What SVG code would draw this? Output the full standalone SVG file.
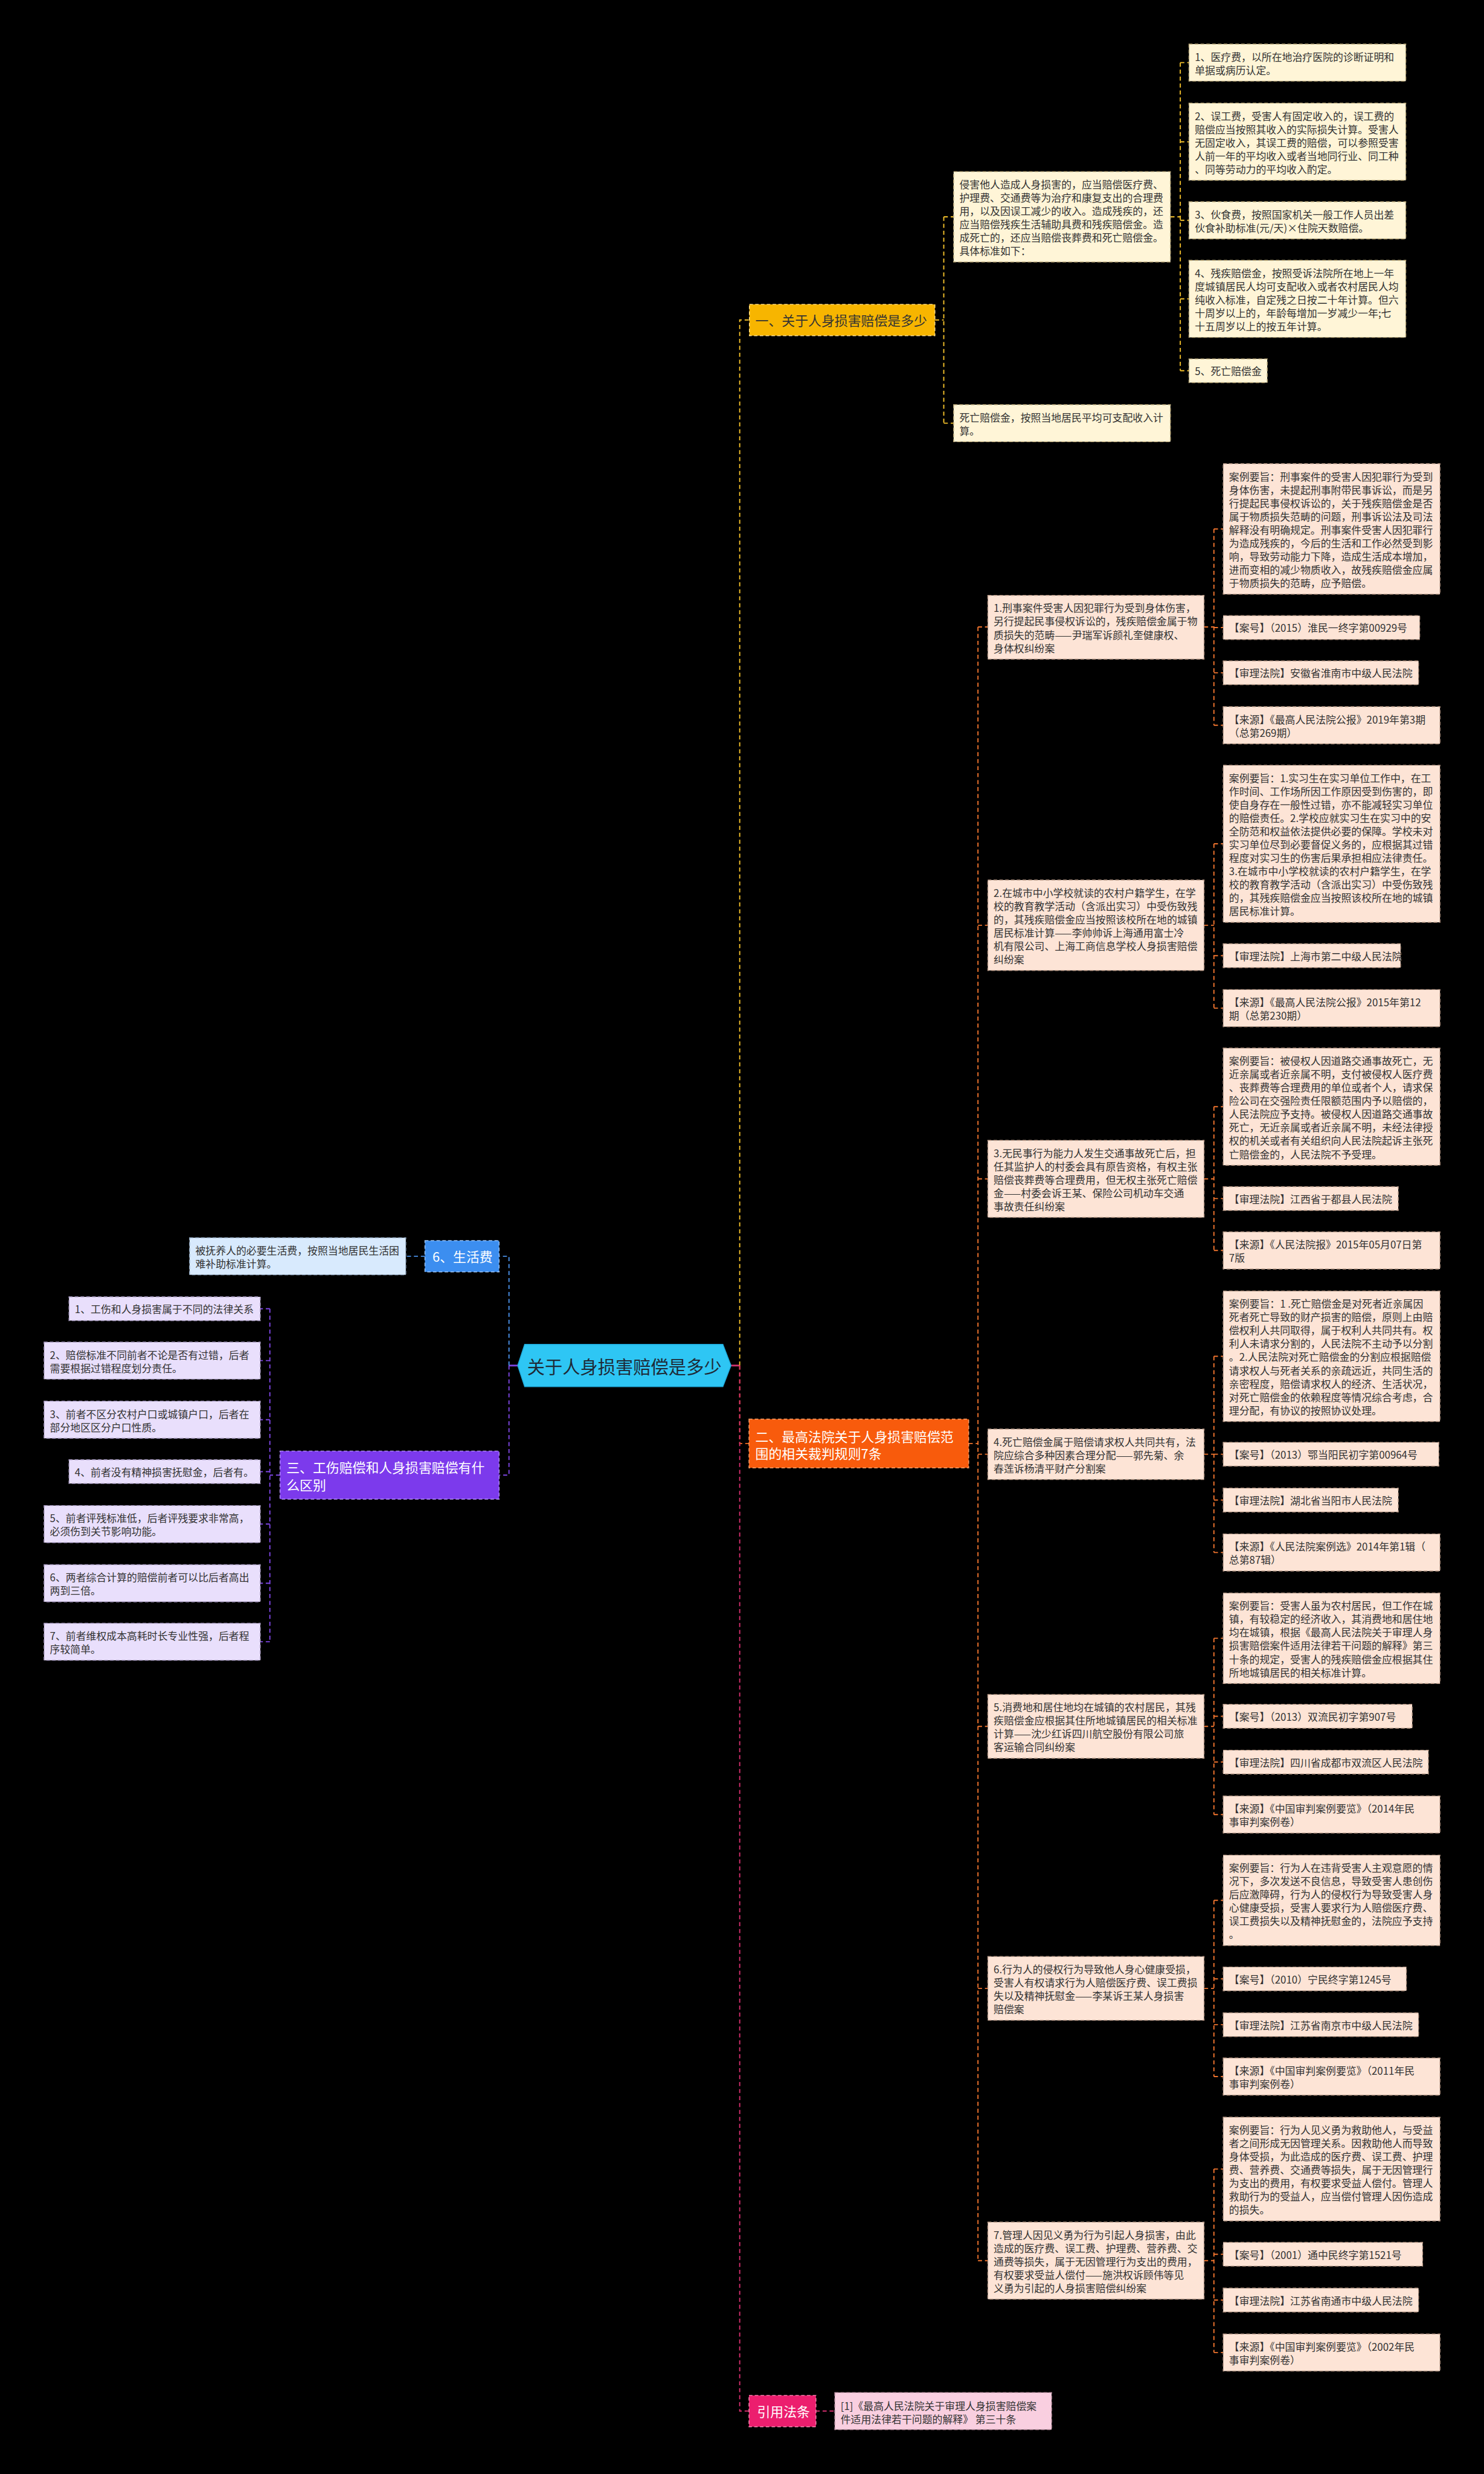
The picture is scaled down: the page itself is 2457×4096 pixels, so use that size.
<svg xmlns="http://www.w3.org/2000/svg" width="2457" height="4096" viewBox="0 0 2457 4096">
<style>
.t{font-family:"Noto Sans CJK SC","Microsoft YaHei",sans-serif;font-size:17.6px;fill:#333;dominant-baseline:central}
.h{font-family:"Noto Sans CJK SC","Microsoft YaHei",sans-serif;font-size:22.8px;dominant-baseline:central}
.w{fill:#fff}
.d{fill:#333}
.b{stroke-width:1.5;stroke-dasharray:6 4}
.y2{fill:#FFF5D7;stroke:#B9A878}
.o2{fill:#FDE4D6;stroke:#B99A88}
.p2{fill:#E9DFFC;stroke:#A497BD}
.bl2{fill:#D8EAFD;stroke:#93A9C2}
.pk2{fill:#F9CFE0;stroke:#B88FA0}
</style>
<rect width="2457" height="4096" fill="#000"/>
<g transform="scale(0.9598)">
<g id="connectors" fill="none" stroke-width="2" stroke-dasharray="7 5">
<path d="M1261 2355.5H1276" stroke="#D0346F" stroke-dasharray="none" stroke-width="3"/>
<path d="M893 2355.5H878" stroke="#7D45E2" stroke-dasharray="none" stroke-width="3"/>
<path d="M1276 2355.5V552H1292" stroke="#F2BF2A"/>
<path d="M1276 2355.5V2490H1292" stroke="#F26A1F"/>
<path d="M1276 2355.5V4159H1292" stroke="#D42E6E"/>
<path d="M878 2355.5V2167H861" stroke="#4A90E8"/>
<path d="M878 2355.5V2544.5H861" stroke="#7D45E2"/>
<path d="M1613 552H1628M1628 374V730M1628 374H1645M1628 730H1645" stroke="#F2BF2A"/>
<path d="M2019 374H2036M2036 108V639.5M2036 108H2051M2036 244.5H2051M2036 380H2051M2036 515.5H2051M2036 639.5H2051" stroke="#F2BF2A"/>
<path d="M1671 2490H1687M1687 1081.5V3899.5M1687 1081.5H1704M1687 1596H1704M1687 2033.5H1704M1687 2508.5H1704M1687 2978H1704M1687 3430H1704M1687 3899.5H1704" stroke="#F0742E"/>
<path d="M2077 1081.5H2094M2094 912.5V1251M2094 912.5H2110M2094 1082.5H2110M2094 1160.5H2110M2094 1251H2110" stroke="#F0742E"/>
<path d="M2077 1596H2094M2094 1455.5V1739M2094 1455.5H2110M2094 1648.5H2110M2094 1739H2110" stroke="#F0742E"/>
<path d="M2077 2033.5H2094M2094 1909V2157M2094 1909H2110M2094 2067.5H2110M2094 2157H2110" stroke="#F0742E"/>
<path d="M2077 2508.5H2094M2094 2339.5V2678M2094 2339.5H2110M2094 2508.5H2110M2094 2587.5H2110M2094 2678H2110" stroke="#F0742E"/>
<path d="M2077 2978H2094M2094 2826V3130M2094 2826H2110M2094 2960.5H2110M2094 3039.5H2110M2094 3130H2110" stroke="#F0742E"/>
<path d="M2077 3430H2094M2094 3278V3582M2094 3278H2110M2094 3413.5H2110M2094 3492.5H2110M2094 3582H2110" stroke="#F0742E"/>
<path d="M2077 3899.5H2094M2094 3741.5V4058M2094 3741.5H2110M2094 3888.5H2110M2094 3967.5H2110M2094 4058H2110" stroke="#F0742E"/>
<path d="M1407 4159H1440" stroke="#D42E6E"/>
<path d="M733 2167H700" stroke="#4A90E8"/>
<path d="M483 2544.5H465.5M465.5 2257.5V2832M465.5 2257.5H449M465.5 2347H449M465.5 2449H449M465.5 2538.5H449M465.5 2629H449M465.5 2731H449M465.5 2832H449" stroke="#7D45E2"/>
</g>

<g id="root">
<polygon points="893,2355.5 905,2319 1247,2319 1261,2355.5 1247,2392 905,2392" fill="#2EC6F4" stroke="#1FA9DA" stroke-width="1.5"/>
<text x="1077" y="2356" class="h" style="font-size:30.5px;fill:#1E2A36" text-anchor="middle">关于人身损害赔偿是多少</text>
</g>

<g id="n-yi">
<rect x="1292.7" y="525" width="320" height="54" fill="#F7B500" stroke="#FFE08A" class="b"/>
<text x="1303" y="552" class="h d">一、关于人身损害赔偿是多少</text>
</g>
<g id="n-yi-a">
<rect x="1645" y="296" width="374" height="156" class="y2 b"/>
<text x="1655" y="316.5" class="t"><tspan x="1655" dy="0">侵害他人造成人身损害的，应当赔偿医疗费、</tspan><tspan x="1655" dy="23">护理费、交通费等为治疗和康复支出的合理费</tspan><tspan x="1655" dy="23">用，以及因误工减少的收入。造成残疾的，还</tspan><tspan x="1655" dy="23">应当赔偿残疾生活辅助具费和残疾赔偿金。造</tspan><tspan x="1655" dy="23">成死亡的，还应当赔偿丧葬费和死亡赔偿金。</tspan><tspan x="1655" dy="23">具体标准如下：</tspan></text>
</g>
<g id="n-yi-a1">
<rect x="2051" y="76" width="374" height="64" class="y2 b"/>
<text x="2061" y="96.5" class="t"><tspan x="2061" dy="0">1、医疗费，以所在地治疗医院的诊断证明和</tspan><tspan x="2061" dy="23">单据或病历认定。</tspan></text>
</g>
<g id="n-yi-a2">
<rect x="2051" y="178" width="374" height="133" class="y2 b"/>
<text x="2061" y="198.5" class="t"><tspan x="2061" dy="0">2、误工费，受害人有固定收入的，误工费的</tspan><tspan x="2061" dy="23">赔偿应当按照其收入的实际损失计算。受害人</tspan><tspan x="2061" dy="23">无固定收入，其误工费的赔偿，可以参照受害</tspan><tspan x="2061" dy="23">人前一年的平均收入或者当地同行业、同工种</tspan><tspan x="2061" dy="23">、同等劳动力的平均收入酌定。</tspan></text>
</g>
<g id="n-yi-a3">
<rect x="2051" y="348" width="374" height="64" class="y2 b"/>
<text x="2061" y="368.5" class="t"><tspan x="2061" dy="0">3、伙食费，按照国家机关一般工作人员出差</tspan><tspan x="2061" dy="23">伙食补助标准(元/天)×住院天数赔偿。</tspan></text>
</g>
<g id="n-yi-a4">
<rect x="2051" y="449" width="374" height="133" class="y2 b"/>
<text x="2061" y="469.5" class="t"><tspan x="2061" dy="0">4、残疾赔偿金，按照受诉法院所在地上一年</tspan><tspan x="2061" dy="23">度城镇居民人均可支配收入或者农村居民人均</tspan><tspan x="2061" dy="23">纯收入标准，自定残之日按二十年计算。但六</tspan><tspan x="2061" dy="23">十周岁以上的，年龄每增加一岁减少一年;七</tspan><tspan x="2061" dy="23">十五周岁以上的按五年计算。</tspan></text>
</g>
<g id="n-yi-a5">
<rect x="2051" y="619" width="135" height="41" class="y2 b"/>
<text x="2061" y="639.5" class="t">5、死亡赔偿金</text>
</g>
<g id="n-yi-b">
<rect x="1645" y="698" width="374" height="64" class="y2 b"/>
<text x="1655" y="718.5" class="t"><tspan x="1655" dy="0">死亡赔偿金，按照当地居民平均可支配收入计</tspan><tspan x="1655" dy="23">算。</tspan></text>
</g>

<g id="n-er">
<rect x="1292" y="2448" width="379" height="84" fill="#F85B0C" stroke="#FFA06A" class="b"/>
<text x="1303" y="2477" class="h w"><tspan x="1303" dy="0">二、最高法院关于人身损害赔偿范</tspan><tspan x="1303" dy="29">围的相关裁判规则7条</tspan></text>
</g>

<g id="case1">
<rect x="1704" y="1027" width="373" height="110" class="o2 b"/>
<text x="1714" y="1047.5" class="t"><tspan x="1714" dy="0">1.刑事案件受害人因犯罪行为受到身体伤害，</tspan><tspan x="1714" dy="23">另行提起民事侵权诉讼的，残疾赔偿金属于物</tspan><tspan x="1714" dy="23">质损失的范畴——尹瑞军诉颜礼奎健康权、</tspan><tspan x="1714" dy="23">身体权纠纷案</tspan></text>
</g>
<g id="case1-a">
<rect x="2110" y="800" width="374" height="225" class="o2 b"/>
<text x="2120" y="820.5" class="t"><tspan x="2120" dy="0">案例要旨：刑事案件的受害人因犯罪行为受到</tspan><tspan x="2120" dy="23">身体伤害，未提起刑事附带民事诉讼，而是另</tspan><tspan x="2120" dy="23">行提起民事侵权诉讼的，关于残疾赔偿金是否</tspan><tspan x="2120" dy="23">属于物质损失范畴的问题，刑事诉讼法及司法</tspan><tspan x="2120" dy="23">解释没有明确规定。刑事案件受害人因犯罪行</tspan><tspan x="2120" dy="23">为造成残疾的，今后的生活和工作必然受到影</tspan><tspan x="2120" dy="23">响，导致劳动能力下降，造成生活成本增加，</tspan><tspan x="2120" dy="23">进而变相的减少物质收入，故残疾赔偿金应属</tspan><tspan x="2120" dy="23">于物质损失的范畴，应予赔偿。</tspan></text>
</g>
<g id="case1-b">
<rect x="2110" y="1062" width="339" height="41" class="o2 b"/>
<text x="2120" y="1082.5" class="t">【案号】（2015）淮民一终字第00929号</text>
</g>
<g id="case1-c">
<rect x="2110" y="1140" width="337" height="41" class="o2 b"/>
<text x="2120" y="1160.5" class="t">【审理法院】安徽省淮南市中级人民法院</text>
</g>
<g id="case1-d">
<rect x="2110" y="1219" width="374" height="64" class="o2 b"/>
<text x="2120" y="1239.5" class="t"><tspan x="2120" dy="0">【来源】《最高人民法院公报》2019年第3期</tspan><tspan x="2120" dy="23">（总第269期）</tspan></text>
</g>

<g id="case2">
<rect x="1704" y="1518" width="373" height="156" class="o2 b"/>
<text x="1714" y="1538.5" class="t"><tspan x="1714" dy="0">2.在城市中小学校就读的农村户籍学生，在学</tspan><tspan x="1714" dy="23">校的教育教学活动（含派出实习）中受伤致残</tspan><tspan x="1714" dy="23">的，其残疾赔偿金应当按照该校所在地的城镇</tspan><tspan x="1714" dy="23">居民标准计算——李帅帅诉上海通用富士冷</tspan><tspan x="1714" dy="23">机有限公司、上海工商信息学校人身损害赔偿</tspan><tspan x="1714" dy="23">纠纷案</tspan></text>
</g>
<g id="case2-a">
<rect x="2110" y="1320" width="374" height="271" class="o2 b"/>
<text x="2120" y="1340.5" class="t"><tspan x="2120" dy="0">案例要旨：1.实习生在实习单位工作中，在工</tspan><tspan x="2120" dy="23">作时间、工作场所因工作原因受到伤害的，即</tspan><tspan x="2120" dy="23">使自身存在一般性过错，亦不能减轻实习单位</tspan><tspan x="2120" dy="23">的赔偿责任。2.学校应就实习生在实习中的安</tspan><tspan x="2120" dy="23">全防范和权益依法提供必要的保障。学校未对</tspan><tspan x="2120" dy="23">实习单位尽到必要督促义务的，应根据其过错</tspan><tspan x="2120" dy="23">程度对实习生的伤害后果承担相应法律责任。</tspan><tspan x="2120" dy="23">3.在城市中小学校就读的农村户籍学生，在学</tspan><tspan x="2120" dy="23">校的教育教学活动（含派出实习）中受伤致残</tspan><tspan x="2120" dy="23">的，其残疾赔偿金应当按照该校所在地的城镇</tspan><tspan x="2120" dy="23">居民标准计算。</tspan></text>
</g>
<g id="case2-c">
<rect x="2110" y="1628" width="306" height="41" class="o2 b"/>
<text x="2120" y="1648.5" class="t">【审理法院】上海市第二中级人民法院</text>
</g>
<g id="case2-d">
<rect x="2110" y="1707" width="374" height="64" class="o2 b"/>
<text x="2120" y="1727.5" class="t"><tspan x="2120" dy="0">【来源】《最高人民法院公报》2015年第12</tspan><tspan x="2120" dy="23">期（总第230期）</tspan></text>
</g>

<g id="case3">
<rect x="1704" y="1967" width="373" height="133" class="o2 b"/>
<text x="1714" y="1987.5" class="t"><tspan x="1714" dy="0">3.无民事行为能力人发生交通事故死亡后，担</tspan><tspan x="1714" dy="23">任其监护人的村委会具有原告资格，有权主张</tspan><tspan x="1714" dy="23">赔偿丧葬费等合理费用，但无权主张死亡赔偿</tspan><tspan x="1714" dy="23">金——村委会诉王某、保险公司机动车交通</tspan><tspan x="1714" dy="23">事故责任纠纷案</tspan></text>
</g>
<g id="case3-a">
<rect x="2110" y="1808" width="374" height="202" class="o2 b"/>
<text x="2120" y="1828.5" class="t"><tspan x="2120" dy="0">案例要旨：被侵权人因道路交通事故死亡，无</tspan><tspan x="2120" dy="23">近亲属或者近亲属不明，支付被侵权人医疗费</tspan><tspan x="2120" dy="23">、丧葬费等合理费用的单位或者个人，请求保</tspan><tspan x="2120" dy="23">险公司在交强险责任限额范围内予以赔偿的，</tspan><tspan x="2120" dy="23">人民法院应予支持。被侵权人因道路交通事故</tspan><tspan x="2120" dy="23">死亡，无近亲属或者近亲属不明，未经法律授</tspan><tspan x="2120" dy="23">权的机关或者有关组织向人民法院起诉主张死</tspan><tspan x="2120" dy="23">亡赔偿金的，人民法院不予受理。</tspan></text>
</g>
<g id="case3-c">
<rect x="2110" y="2047" width="302" height="41" class="o2 b"/>
<text x="2120" y="2067.5" class="t">【审理法院】江西省于都县人民法院</text>
</g>
<g id="case3-d">
<rect x="2110" y="2125" width="374" height="64" class="o2 b"/>
<text x="2120" y="2145.5" class="t"><tspan x="2120" dy="0">【来源】《人民法院报》2015年05月07日第</tspan><tspan x="2120" dy="23">7版</tspan></text>
</g>

<g id="case4">
<rect x="1704" y="2465" width="373" height="87" class="o2 b"/>
<text x="1714" y="2485.5" class="t"><tspan x="1714" dy="0">4.死亡赔偿金属于赔偿请求权人共同共有，法</tspan><tspan x="1714" dy="23">院应综合多种因素合理分配——郭先菊、余</tspan><tspan x="1714" dy="23">春莲诉杨清平财产分割案</tspan></text>
</g>
<g id="case4-a">
<rect x="2110" y="2227" width="374" height="225" class="o2 b"/>
<text x="2120" y="2247.5" class="t"><tspan x="2120" dy="0">案例要旨：1 .死亡赔偿金是对死者近亲属因</tspan><tspan x="2120" dy="23">死者死亡导致的财产损害的赔偿，原则上由赔</tspan><tspan x="2120" dy="23">偿权利人共同取得，属于权利人共同共有。权</tspan><tspan x="2120" dy="23">利人未请求分割的，人民法院不主动予以分割</tspan><tspan x="2120" dy="23">。2.人民法院对死亡赔偿金的分割应根据赔偿</tspan><tspan x="2120" dy="23">请求权人与死者关系的亲疏远近，共同生活的</tspan><tspan x="2120" dy="23">亲密程度，赔偿请求权人的经济、生活状况，</tspan><tspan x="2120" dy="23">对死亡赔偿金的依赖程度等情况综合考虑，合</tspan><tspan x="2120" dy="23">理分配，有协议的按照协议处理。</tspan></text>
</g>
<g id="case4-b">
<rect x="2110" y="2488" width="372" height="41" class="o2 b"/>
<text x="2120" y="2508.5" class="t">【案号】（2013）鄂当阳民初字第00964号</text>
</g>
<g id="case4-c">
<rect x="2110" y="2567" width="302" height="41" class="o2 b"/>
<text x="2120" y="2587.5" class="t">【审理法院】湖北省当阳市人民法院</text>
</g>
<g id="case4-d">
<rect x="2110" y="2646" width="374" height="64" class="o2 b"/>
<text x="2120" y="2666.5" class="t"><tspan x="2120" dy="0">【来源】《人民法院案例选》2014年第1辑（</tspan><tspan x="2120" dy="23">总第87辑）</tspan></text>
</g>

<g id="case5">
<rect x="1704" y="2923" width="373" height="110" class="o2 b"/>
<text x="1714" y="2943.5" class="t"><tspan x="1714" dy="0">5.消费地和居住地均在城镇的农村居民，其残</tspan><tspan x="1714" dy="23">疾赔偿金应根据其住所地城镇居民的相关标准</tspan><tspan x="1714" dy="23">计算——沈少红诉四川航空股份有限公司旅</tspan><tspan x="1714" dy="23">客运输合同纠纷案</tspan></text>
</g>
<g id="case5-a">
<rect x="2110" y="2748" width="374" height="156" class="o2 b"/>
<text x="2120" y="2768.5" class="t"><tspan x="2120" dy="0">案例要旨：受害人虽为农村居民，但工作在城</tspan><tspan x="2120" dy="23">镇，有较稳定的经济收入，其消费地和居住地</tspan><tspan x="2120" dy="23">均在城镇，根据《最高人民法院关于审理人身</tspan><tspan x="2120" dy="23">损害赔偿案件适用法律若干问题的解释》第三</tspan><tspan x="2120" dy="23">十条的规定，受害人的残疾赔偿金应根据其住</tspan><tspan x="2120" dy="23">所地城镇居民的相关标准计算。</tspan></text>
</g>
<g id="case5-b">
<rect x="2110" y="2940" width="326" height="41" class="o2 b"/>
<text x="2120" y="2960.5" class="t">【案号】（2013）双流民初字第907号</text>
</g>
<g id="case5-c">
<rect x="2110" y="3019" width="354" height="41" class="o2 b"/>
<text x="2120" y="3039.5" class="t">【审理法院】四川省成都市双流区人民法院</text>
</g>
<g id="case5-d">
<rect x="2110" y="3098" width="374" height="64" class="o2 b"/>
<text x="2120" y="3118.5" class="t"><tspan x="2120" dy="0">【来源】《中国审判案例要览》（2014年民</tspan><tspan x="2120" dy="23">事审判案例卷）</tspan></text>
</g>

<g id="case6">
<rect x="1704" y="3375" width="373" height="110" class="o2 b"/>
<text x="1714" y="3395.5" class="t"><tspan x="1714" dy="0">6.行为人的侵权行为导致他人身心健康受损，</tspan><tspan x="1714" dy="23">受害人有权请求行为人赔偿医疗费、误工费损</tspan><tspan x="1714" dy="23">失以及精神抚慰金——李某诉王某人身损害</tspan><tspan x="1714" dy="23">赔偿案</tspan></text>
</g>
<g id="case6-a">
<rect x="2110" y="3200" width="374" height="156" class="o2 b"/>
<text x="2120" y="3220.5" class="t"><tspan x="2120" dy="0">案例要旨：行为人在违背受害人主观意愿的情</tspan><tspan x="2120" dy="23">况下，多次发送不良信息，导致受害人患创伤</tspan><tspan x="2120" dy="23">后应激障碍，行为人的侵权行为导致受害人身</tspan><tspan x="2120" dy="23">心健康受损，受害人要求行为人赔偿医疗费、</tspan><tspan x="2120" dy="23">误工费损失以及精神抚慰金的，法院应予支持</tspan><tspan x="2120" dy="23">。</tspan></text>
</g>
<g id="case6-b">
<rect x="2110" y="3393" width="316" height="41" class="o2 b"/>
<text x="2120" y="3413.5" class="t">【案号】（2010）宁民终字第1245号</text>
</g>
<g id="case6-c">
<rect x="2110" y="3472" width="337" height="41" class="o2 b"/>
<text x="2120" y="3492.5" class="t">【审理法院】江苏省南京市中级人民法院</text>
</g>
<g id="case6-d">
<rect x="2110" y="3550" width="374" height="64" class="o2 b"/>
<text x="2120" y="3570.5" class="t"><tspan x="2120" dy="0">【来源】《中国审判案例要览》（2011年民</tspan><tspan x="2120" dy="23">事审判案例卷）</tspan></text>
</g>

<g id="case7">
<rect x="1704" y="3833" width="373" height="133" class="o2 b"/>
<text x="1714" y="3853.5" class="t"><tspan x="1714" dy="0">7.管理人因见义勇为行为引起人身损害，由此</tspan><tspan x="1714" dy="23">造成的医疗费、误工费、护理费、营养费、交</tspan><tspan x="1714" dy="23">通费等损失，属于无因管理行为支出的费用，</tspan><tspan x="1714" dy="23">有权要求受益人偿付——施洪权诉顾伟等见</tspan><tspan x="1714" dy="23">义勇为引起的人身损害赔偿纠纷案</tspan></text>
</g>
<g id="case7-a">
<rect x="2110" y="3652" width="374" height="179" class="o2 b"/>
<text x="2120" y="3672.5" class="t"><tspan x="2120" dy="0">案例要旨：行为人见义勇为救助他人，与受益</tspan><tspan x="2120" dy="23">者之间形成无因管理关系。因救助他人而导致</tspan><tspan x="2120" dy="23">身体受损，为此造成的医疗费、误工费、护理</tspan><tspan x="2120" dy="23">费、营养费、交通费等损失，属于无因管理行</tspan><tspan x="2120" dy="23">为支出的费用，有权要求受益人偿付。管理人</tspan><tspan x="2120" dy="23">救助行为的受益人，应当偿付管理人因伤造成</tspan><tspan x="2120" dy="23">的损失。</tspan></text>
</g>
<g id="case7-b">
<rect x="2110" y="3868" width="344" height="41" class="o2 b"/>
<text x="2120" y="3888.5" class="t">【案号】（2001）通中民终字第1521号</text>
</g>
<g id="case7-c">
<rect x="2110" y="3947" width="337" height="41" class="o2 b"/>
<text x="2120" y="3967.5" class="t">【审理法院】江苏省南通市中级人民法院</text>
</g>
<g id="case7-d">
<rect x="2110" y="4026" width="374" height="64" class="o2 b"/>
<text x="2120" y="4046.5" class="t"><tspan x="2120" dy="0">【来源】《中国审判案例要览》（2002年民</tspan><tspan x="2120" dy="23">事审判案例卷）</tspan></text>
</g>

<g id="n-cite">
<rect x="1292" y="4132" width="115.5" height="54" fill="#EC1E6E" stroke="#FF8AB5" class="b"/>
<text x="1306" y="4159" class="h w">引用法条</text>
</g>
<g id="n-cite-a">
<rect x="1440" y="4127" width="374" height="64" class="pk2 b"/>
<text x="1450" y="4148.5" class="t"><tspan x="1450" dy="0">[1]《最高人民法院关于审理人身损害赔偿案</tspan><tspan x="1450" dy="23">件适用法律若干问题的解释》 第三十条</tspan></text>
</g>

<g id="n-six">
<rect x="733" y="2140" width="128" height="54" fill="#3C8EF0" stroke="#9CC6FA" class="b"/>
<text x="746" y="2167" class="h w">6、生活费</text>
</g>
<g id="n-six-a">
<rect x="327" y="2135" width="373" height="64" class="bl2 b"/>
<text x="337" y="2155.5" class="t"><tspan x="337" dy="0">被抚养人的必要生活费，按照当地居民生活困</tspan><tspan x="337" dy="23">难补助标准计算。</tspan></text>
</g>

<g id="n-san">
<rect x="483" y="2503" width="378" height="83" fill="#7C3AEC" stroke="#B592F7" class="b"/>
<text x="494" y="2530" class="h w"><tspan x="494" dy="0">三、工伤赔偿和人身损害赔偿有什</tspan><tspan x="494" dy="30">么区别</tspan></text>
</g>
<g id="n-san-1">
<rect x="119" y="2237" width="330" height="41" class="p2 b"/>
<text x="129" y="2257.5" class="t">1、工伤和人身损害属于不同的法律关系</text>
</g>
<g id="n-san-2">
<rect x="76" y="2315" width="373" height="64" class="p2 b"/>
<text x="86" y="2335.5" class="t"><tspan x="86" dy="0">2、赔偿标准不同前者不论是否有过错，后者</tspan><tspan x="86" dy="23">需要根据过错程度划分责任。</tspan></text>
</g>
<g id="n-san-3">
<rect x="76" y="2417" width="373" height="64" class="p2 b"/>
<text x="86" y="2437.5" class="t"><tspan x="86" dy="0">3、前者不区分农村户口或城镇户口，后者在</tspan><tspan x="86" dy="23">部分地区区分户口性质。</tspan></text>
</g>
<g id="n-san-4">
<rect x="119" y="2518" width="330" height="41" class="p2 b"/>
<text x="129" y="2538.5" class="t">4、前者没有精神损害抚慰金，后者有。</text>
</g>
<g id="n-san-5">
<rect x="76" y="2597" width="373" height="64" class="p2 b"/>
<text x="86" y="2617.5" class="t"><tspan x="86" dy="0">5、前者评残标准低，后者评残要求非常高，</tspan><tspan x="86" dy="23">必须伤到关节影响功能。</tspan></text>
</g>
<g id="n-san-6">
<rect x="76" y="2699" width="373" height="64" class="p2 b"/>
<text x="86" y="2719.5" class="t"><tspan x="86" dy="0">6、两者综合计算的赔偿前者可以比后者高出</tspan><tspan x="86" dy="23">两到三倍。</tspan></text>
</g>
<g id="n-san-7">
<rect x="76" y="2800" width="373" height="64" class="p2 b"/>
<text x="86" y="2820.5" class="t"><tspan x="86" dy="0">7、前者维权成本高耗时长专业性强，后者程</tspan><tspan x="86" dy="23">序较简单。</tspan></text>
</g>
</g>
</svg>
